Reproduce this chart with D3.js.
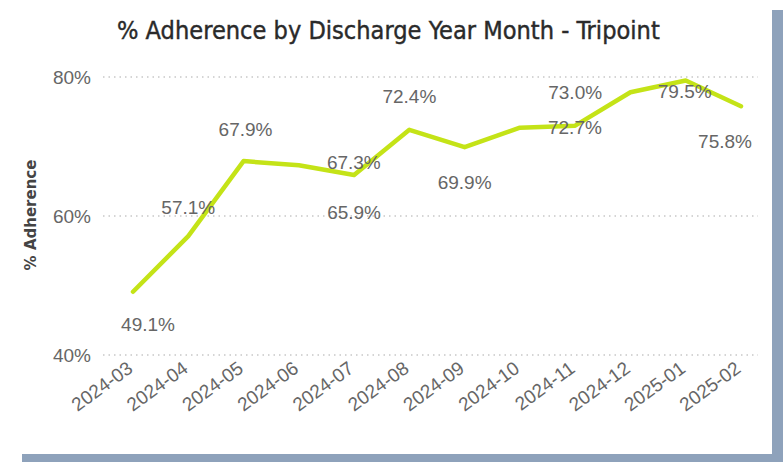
<!DOCTYPE html>
<meta charset="utf-8">
<style>
body { margin: 0; background: #fff; }
svg { display: block; }
.tick-label { fill: #666; font-family: "Liberation Sans", "DejaVu Sans", sans-serif; }
.grid { stroke: #c8c8c8; stroke-width: 1.5px; stroke-dasharray: 1.5 4; }
.line { fill: none; stroke: #c4e317; stroke-width: 4.5px; stroke-linejoin: round; stroke-linecap: round; }
.dlabel { fill: #666; font-family: "Liberation Sans", "DejaVu Sans", sans-serif; text-anchor: middle; }
</style>
<svg width="783" height="462"></svg>
<script src="https://cdn.jsdelivr.net/npm/d3@7"></script>
<script>

var months = ["2024-03", "2024-04", "2024-05", "2024-06", "2024-07", "2024-08",
              "2024-09", "2024-10", "2024-11", "2024-12", "2025-01", "2025-02"];
var adherence = [49.1, 57.1, 67.9, 67.3, 65.9, 72.4, 69.9, 72.7, 73.0, 77.8, 79.5, 75.8];
var showLabel = [true, true, true, true, true, true, true, true, true, false, true, true];
var yTicks = [40, 60, 80];

// where each data label sits relative to its point (px)
var labelShift = [[15, 33], [0, -29], [2, -32], [55, -3], [0, 37], [0, -33],
                  [0, 35], [55, 0], [0, -33], [0, 0], [-1, 11], [-16, 35]];

var svg = d3.select("svg"),
    width = +svg.attr("width"),
    height = +svg.attr("height");

// frame shadow
svg.append("rect").attr("x", 772).attr("y", 10).attr("width", 11).attr("height", height - 10)
    .attr("fill", "#8ea2bb");
svg.append("rect").attr("x", 22).attr("y", 454).attr("width", width - 22).attr("height", 8)
    .attr("fill", "#8ea2bb");

var x = d3.scalePoint().domain(months).range([133, 741]);
var y = d3.scaleLinear().domain([40, 80]).range([355, 77]);

// title
var title = svg.append("text")
    .attr("x", 117).attr("y", 39)
    .style("font-family", "'DejaVu Sans Condensed', 'DejaVu Sans', sans-serif")
    .style("font-size", "20px")
    .style("fill", "#2a2a2a")
    .style("stroke", "#2a2a2a")
    .style("stroke-width", "0.4px")
    .text("% Adherence by Discharge Year Month - Tripoint");
var tw = title.node().getComputedTextLength();
title.style("font-size", (20 * 543 / tw) + "px");

// y axis title
svg.append("text")
    .attr("transform", "translate(36,215) rotate(-90)")
    .attr("text-anchor", "middle")
    .style("font-family", "'DejaVu Sans', sans-serif")
    .style("font-weight", "bold")
    .style("font-size", "15px")
    .style("fill", "#444")
    .text("% Adherence");

// gridlines + y ticks
svg.selectAll(".grid").data(yTicks).enter().append("line")
    .attr("class", "grid")
    .attr("x1", 103).attr("x2", 758)
    .attr("y1", function(d) { return y(d); })
    .attr("y2", function(d) { return y(d); });

svg.selectAll(".ytick").data(yTicks).enter().append("text")
    .attr("class", "tick-label")
    .attr("x", 91)
    .attr("y", function(d) { return y(d); })
    .attr("dy", "0.35em")
    .attr("text-anchor", "end")
    .style("font-size", "19px")
    .text(function(d) { return d + "%"; });

// x ticks, rotated
svg.selectAll(".xtick").data(months).enter().append("text")
    .attr("class", "tick-label")
    .attr("text-anchor", "end")
    .attr("transform", function(d) { return "translate(" + (x(d) + 1) + ",371) rotate(-36)"; })
    .style("font-size", "19px")
    .text(function(d) { return d; });

// line
var line = d3.line()
    .x(function(d, i) { return x(months[i]); })
    .y(function(d) { return y(d); });

svg.append("path")
    .datum(adherence)
    .attr("class", "line")
    .attr("d", line);

// data labels
var labelData = adherence.map(function(v, i) { return { v: v, i: i }; })
    .filter(function(d) { return showLabel[d.i]; });

svg.selectAll(".dlabel").data(labelData).enter().append("text")
    .attr("class", "dlabel")
    .attr("x", function(d) { return x(months[d.i]) + labelShift[d.i][0]; })
    .attr("y", function(d) { return y(d.v) + labelShift[d.i][1]; })
    .attr("dy", "0.35em")
    .style("font-size", "19px")
    .text(function(d) { return d.v.toFixed(1) + "%"; });

</script>
